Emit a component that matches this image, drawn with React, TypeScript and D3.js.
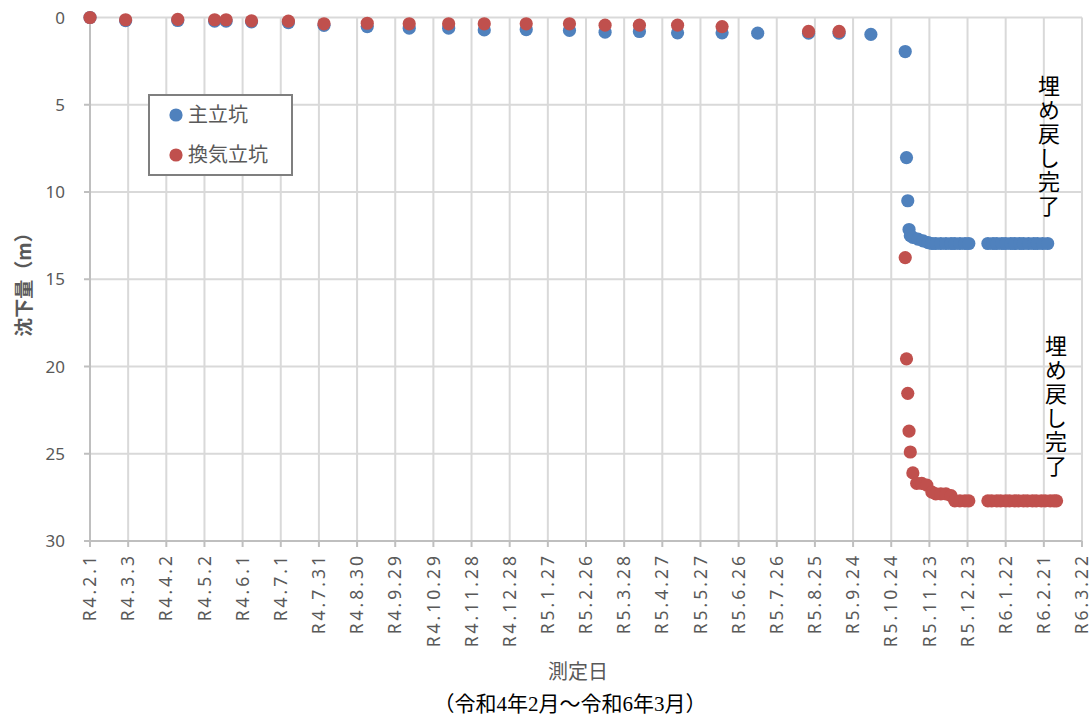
import * as React from "react";
import * as d3 from "d3";

// 主立坑 (main shaft): settlement in m
const mainDates = [
  "2022-02-01", "2022-03-01", "2022-04-11", "2022-05-10", "2022-05-19", "2022-06-08",
  "2022-07-07", "2022-08-04", "2022-09-07", "2022-10-10", "2022-11-10", "2022-12-08",
  "2023-01-10", "2023-02-13", "2023-03-13", "2023-04-09", "2023-05-09", "2023-06-13",
  "2023-07-11", "2023-08-20", "2023-09-13", "2023-10-08",
  "2023-11-04", "2023-11-05", "2023-11-06", "2023-11-07", "2023-11-08", "2023-11-10",
  "2023-11-14", "2023-11-18", "2023-11-22", "2023-11-25", "2023-11-28", "2023-12-02",
  "2023-12-06", "2023-12-10", "2023-12-13", "2023-12-17", "2023-12-21", "2023-12-24",
  "2024-01-08", "2024-01-12", "2024-01-15", "2024-01-19", "2024-01-22", "2024-01-26",
  "2024-01-29", "2024-02-02", "2024-02-05", "2024-02-09", "2024-02-13", "2024-02-16",
  "2024-02-20", "2024-02-24",
];
const mainValues = [
  0, 0.18, 0.17, 0.21, 0.21, 0.25,
  0.29, 0.45, 0.52, 0.61, 0.61, 0.71,
  0.69, 0.74, 0.84, 0.8, 0.88, 0.88,
  0.9, 0.9, 0.9, 0.97,
  1.95, 8.03, 10.5, 12.15, 12.5, 12.6,
  12.7, 12.8, 12.9, 12.95, 12.95, 12.95,
  12.95, 12.95, 12.95, 12.95, 12.95, 12.95,
  12.95, 12.95, 12.95, 12.95, 12.95, 12.95,
  12.95, 12.95, 12.95, 12.95, 12.95, 12.95,
  12.95, 12.95,
];

// 換気立坑 (ventilation shaft)
const ventDates = [
  "2022-02-01", "2022-03-01", "2022-04-11", "2022-05-10", "2022-05-19", "2022-06-08",
  "2022-07-07", "2022-08-04", "2022-09-07", "2022-10-10", "2022-11-10", "2022-12-08",
  "2023-01-10", "2023-02-13", "2023-03-13", "2023-04-09", "2023-05-09", "2023-06-13",
  "2023-08-20", "2023-09-13",
  "2023-11-04", "2023-11-05", "2023-11-06", "2023-11-07", "2023-11-08", "2023-11-10",
  "2023-11-13", "2023-11-17", "2023-11-21", "2023-11-25", "2023-11-28", "2023-12-02",
  "2023-12-06", "2023-12-10", "2023-12-13", "2023-12-17", "2023-12-21", "2023-12-24",
  "2024-01-08", "2024-01-11", "2024-01-15", "2024-01-18", "2024-01-22", "2024-01-25",
  "2024-01-29", "2024-02-01", "2024-02-05", "2024-02-08", "2024-02-12", "2024-02-15",
  "2024-02-19", "2024-02-22", "2024-02-26", "2024-02-29", "2024-03-02",
];
const ventValues = [
  0, 0.13, 0.11, 0.13, 0.13, 0.19,
  0.21, 0.36, 0.33, 0.36, 0.36, 0.36,
  0.36, 0.36, 0.44, 0.44, 0.44, 0.52,
  0.8, 0.8,
  13.76, 19.56, 21.54, 23.7, 24.9, 26.1,
  26.7, 26.7, 26.8, 27.2, 27.3, 27.3,
  27.3, 27.4, 27.7, 27.7, 27.7, 27.7,
  27.7, 27.7, 27.7, 27.7, 27.7, 27.7,
  27.7, 27.7, 27.7, 27.7, 27.7, 27.7,
  27.7, 27.7, 27.7, 27.7, 27.7,
];

const xTickLabels = [
  "R4.2.1", "R4.3.3", "R4.4.2", "R4.5.2", "R4.6.1", "R4.7.1", "R4.7.31", "R4.8.30",
  "R4.9.29", "R4.10.29", "R4.11.28", "R4.12.28", "R5.1.27", "R5.2.26", "R5.3.28",
  "R5.4.27", "R5.5.27", "R5.6.26", "R5.7.26", "R5.8.25", "R5.9.24", "R5.10.24",
  "R5.11.23", "R5.12.23", "R6.1.22", "R6.2.21", "R6.3.22",
];
const yTicks = [0, 5, 10, 15, 20, 25, 30];

const seriesNames = ["主立坑", "換気立坑"];
const annotationText = "埋め戻し完了";

const BLUE = "#4f81bd";
const RED = "#c0504d";
const GRID = "#d9d9d9";
const AXIS = "#bfbfbf";
const TEXT = "#595959";
const SANS = '"Noto Sans", "Noto Sans CJK JP", sans-serif';
const CJK = '"Noto Sans CJK JP", sans-serif';

const parse = d3.utcParse("%Y-%m-%d");

// "R4.2.1" -> 令和4年2月1日
function reiwaToDate(label: string): Date {
  const [y, m, d] = label.slice(1).split(".").map(Number);
  return new Date(Date.UTC(2018 + y, m - 1, d));
}

export default function App() {
  const width = 1089;
  const height = 717;
  const left = 90;
  const right = 1082;
  const top = 17.5;
  const bottom = 541;

  const tickDates = xTickLabels.map(reiwaToDate);

  const x = d3
    .scaleUtc()
    .domain([tickDates[0], tickDates[tickDates.length - 1]])
    .range([left, right]);
  const y = d3.scaleLinear().domain([0, 30]).range([top, bottom]);

  const mainPts = mainDates.map((d, i) => ({ date: parse(d)!, v: mainValues[i] }));
  const ventPts = ventDates.map((d, i) => ({ date: parse(d)!, v: ventValues[i] }));

  const r = 6.6;

  // vertical notes, top of first character
  const annots = [
    { x: 1049, y: 75 },
    { x: 1056, y: 335 },
  ];

  return (
    <svg
      width={width}
      height={height}
      style={{ position: "absolute", left: 0, top: 0, background: "#fff" }}
    >
      {/* grid */}
      <g>
        {yTicks.map((t) => (
          <line key={"h" + t} x1={left} x2={right} y1={y(t)} y2={y(t)} stroke={GRID} strokeWidth={2} />
        ))}
        {tickDates.map((d, i) => (
          <line key={"v" + i} x1={x(d)} x2={x(d)} y1={top} y2={bottom} stroke={GRID} strokeWidth={2} />
        ))}
      </g>

      {/* axes */}
      <line x1={left} x2={left} y1={top} y2={bottom} stroke={AXIS} strokeWidth={2} />
      <line x1={left} x2={right} y1={bottom} y2={bottom} stroke={AXIS} strokeWidth={2} />
      {yTicks.map((t) => (
        <g key={"yt" + t}>
          <line x1={left - 6} x2={left} y1={y(t)} y2={y(t)} stroke={AXIS} strokeWidth={2} />
          <text
            x={65}
            y={y(t)}
            dy="0.36em"
            textAnchor="end"
            fontFamily={SANS}
            fontSize={17}
            fill={TEXT}
          >
            {t}
          </text>
        </g>
      ))}
      {tickDates.map((d, i) => (
        <g key={"xt" + i}>
          <line x1={x(d)} x2={x(d)} y1={bottom} y2={bottom + 6} stroke={AXIS} strokeWidth={2} />
          <text
            transform={`translate(${x(d)},${bottom + 12}) rotate(-90)`}
            dy="0.35em"
            textAnchor="end"
            fontFamily={SANS}
            fontSize={17.5}
            letterSpacing={3}
            fill={TEXT}
          >
            {xTickLabels[i]}
          </text>
        </g>
      ))}

      {/* points */}
      <g>
        {mainPts.map((p, i) => (
          <circle key={"m" + i} cx={x(p.date)} cy={y(p.v)} r={r} fill={BLUE} />
        ))}
        {ventPts.map((p, i) => (
          <circle key={"v" + i} cx={x(p.date)} cy={y(p.v)} r={r} fill={RED} />
        ))}
      </g>

      {/* annotations */}
      {annots.map((a, k) => (
        <text
          key={"a" + k}
          x={a.x}
          y={a.y}
          style={{ writingMode: "vertical-rl", textOrientation: "upright" }}
          fontFamily={CJK}
          fontSize={22}
          letterSpacing={2}
          fill="#000"
        >
          {annotationText}
        </text>
      ))}

      {/* legend */}
      <rect x={149} y={95} width={143} height={80} fill="#fff" stroke="#7f7f7f" strokeWidth={2} />
      {seriesNames.map((name, i) => (
        <g key={name}>
          <circle cx={176} cy={115 + i * 40} r={r} fill={i === 0 ? BLUE : RED} />
          <text x={188} y={115 + i * 40} dy="0.36em" fontFamily={CJK} fontSize={20} fill={TEXT}>
            {name}
          </text>
        </g>
      ))}

      {/* axis titles */}
      <text
        transform="translate(24,280) rotate(-90)"
        dy="0.36em"
        textAnchor="middle"
        fontFamily={CJK}
        fontSize={19}
        fontWeight="bold"
        fill={TEXT}
      >
        沈下量（m）
      </text>
      <text x={578} y={672} dy="0.36em" textAnchor="middle" fontFamily={CJK} fontSize={20} fill={TEXT}>
        測定日
      </text>
      <text
        x={570}
        y={703}
        dy="0.36em"
        textAnchor="middle"
        fontFamily={'"Liberation Serif", "Noto Sans CJK JP", serif'}
        fontSize={21}
        fill="#000"
      >
        （令和4年2月～令和6年3月）
      </text>
    </svg>
  );
}
